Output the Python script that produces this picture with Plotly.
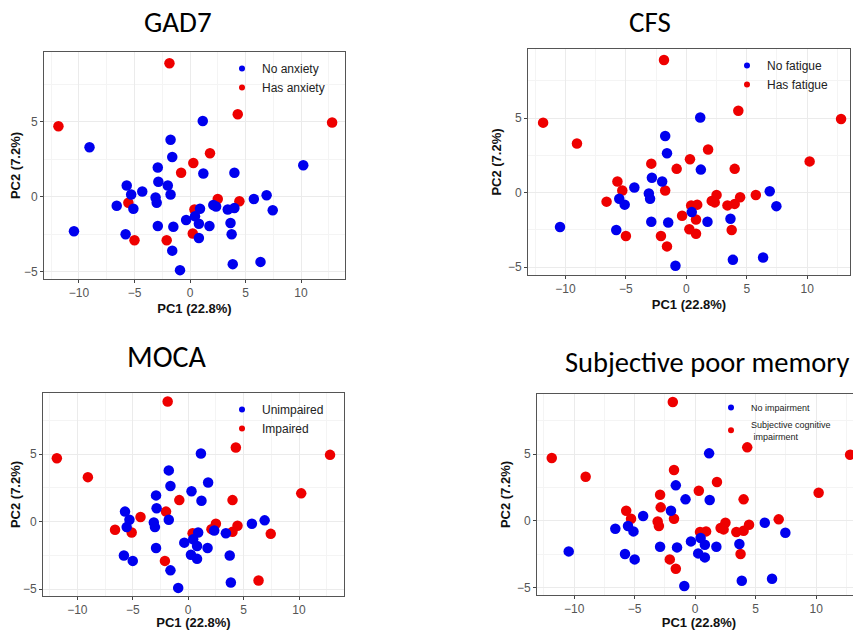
import plotly.graph_objects as go

# page is 861x630; the html body adds an 8px margin, so the figure is drawn 8px smaller
OFF = 8
W, H = 861 - OFF, 630 - OFF

# PCA scores (same samples in every panel)
pc1 = [-1.85, -11.85, 4.3, 12.8, 1.8, 0.3, -0.8, 2.5, 4.45, -5.55, 0.4, 0.25, -5.0, -2.1,
       1.15, -9.05, -1.75, -1.6, 10.2, -2.9, 1.2, 4.0, -2.85, -2.0, -5.7, -4.3, -5.3, -1.75,
       -3.1, -3.0, -6.6, -5.1, 6.9, 5.75, 7.45, 2.1, 2.35, 3.4, 4.0, 0.9, -0.35, 0.45, 0.8,
       -2.9, -1.5, 1.75, 3.65, 3.75, 0.8, -10.45, -5.8, -1.6, -0.9, 3.85, 6.35]
pc2 = [8.9, 4.7, 5.5, 4.95, 2.9, 2.25, 1.6, -0.15, -0.3, -0.4, -0.85, -2.45, -2.9, -2.9,
       5.05, 3.3, 3.8, 2.65, 2.1, 1.95, 1.55, 1.6, 1.0, 0.75, 0.75, 0.35, 0.15, 0.15,
       -0.05, -0.4, -0.6, -0.8, 0.1, -0.15, -0.9, -0.55, -0.65, -0.85, -0.75, -0.8, -1.55, -1.3, -1.8,
       -1.95, -2.0, -1.95, -1.75, -2.5, -2.75, -2.3, -2.5, -3.6, -4.9, -4.5, -4.35]

# group codes: 1 = condition present (red), 0 = absent (blue), None = missing
gad7 = [1]*14 + [0]*41
cfs = [1, 1, 1, 1, 1, 1, 1, 1, 1, 0, 1, 1, 1, 1,
       0, 1, 0, 0, 1, 1, 0, 1, 0, 0, 1, 0, 1, 1,
       0, 0, 1, 0, 0, 1, 0, 1, 1, 1, 1, 1, 1, 0, 1,
       0, 0, 0, 0, 1, 1, 0, 0, 1, 0, 0, 0]
moca = [1, 1, 1, 1, 0, 0, 1, 1, 1, 0, 1, 0, 0, 1,
        0, 1, 0, 0, 1, 0, 0, 1, 0, 1, 0, 1, 0, 0,
        0, 0, 1, 1, 0, 0, 1, 1, 0, 0, 1, 0, 0, 0, 0,
        0, None, 0, None, 0, 0, None, 0, 0, 0, 0, 1]
spm = [1, 1, 1, 1, 1, 1, 0, 1, 1, 0, 1, 0, 0, 1,
       0, 1, 1, 0, 1, 1, 0, 1, 1, 0, 1, 0, 1, 1,
       1, 1, 0, 0, 1, 0, 0, 1, 1, 1, 1, 1, 0, 0, 0,
       0, 0, 0, 0, 1, 0, 0, 0, 1, 0, 0, 0]

titles = ["GAD7", "CFS", "MOCA", "Subjective poor memory"]
neg_labels = ["No anxiety", "No fatigue", "Unimpaired", "No impairment"]
pos_labels = ["Has anxiety", "Has fatigue", "Impaired", "Subjective cognitive<br> impairment"]
groups = [gad7, cfs, moca, spm]
x_title = "PC1 (22.8%)"
y_title = "PC2 (7.2%)"

BLUE, RED = "#0000EE", "#EE0000"

# panel geometry in page pixels: (left, right, top, bottom), axis ranges
boxes = [(44, 345, 52, 279), (528, 850, 49, 275), (43, 344, 393, 596), (537, 861, 394, 595)]
xranges = [(-13.15, 13.96), (-13.1, 13.54), (-13.1, 14.06), (-13.07, 13.7)]
yranges = [(-5.49, 9.65), (-5.52, 9.64), (-5.5, 9.53), (-5.57, 9.5)]
title_pos = [(178, 22, 29), (650, 22, 29), (167, 356, 30), (707, 362, 28.5)]
legend_pos = [(222, 54, 12), (727, 51, 12), (222, 395, 12), (711, 393, 9)]


def fx(px):
    return (px - OFF) / W


def fy(py):
    return 1 - (py - OFF) / H


fig = go.Figure()
layout = dict(width=W, height=H, margin=dict(l=0, r=0, t=0, b=0),
              paper_bgcolor="white", plot_bgcolor="white", showlegend=True,
              annotations=[])

for i in range(4):
    k = "" if i == 0 else str(i + 1)
    xa, ya = "x" + k, "y" + k
    leg = "legend" + k
    g = groups[i]
    xr = [pc1[j] for j in range(len(g)) if g[j] == 1]
    yr = [pc2[j] for j in range(len(g)) if g[j] == 1]
    xb = [pc1[j] for j in range(len(g)) if g[j] == 0]
    yb = [pc2[j] for j in range(len(g)) if g[j] == 0]
    fig.add_trace(go.Scatter(x=xr, y=yr, mode="markers", xaxis=xa, yaxis=ya,
                             marker=dict(color=RED, size=10.5), showlegend=False))
    fig.add_trace(go.Scatter(x=xb, y=yb, mode="markers", xaxis=xa, yaxis=ya,
                             marker=dict(color=BLUE, size=10.5), showlegend=False))
    # legend entries
    fig.add_trace(go.Scatter(x=[None], y=[None], mode="markers", xaxis=xa, yaxis=ya,
                             marker=dict(color=BLUE, size=6), name=neg_labels[i], legend=leg))
    fig.add_trace(go.Scatter(x=[None], y=[None], mode="markers", xaxis=xa, yaxis=ya,
                             marker=dict(color=RED, size=6), name=pos_labels[i], legend=leg))

    l, r, t, b = boxes[i]
    axcommon = dict(showline=True, mirror=True, linecolor="#555555", linewidth=1,
                    showgrid=True, gridcolor="#EBEBEB", gridwidth=1, zeroline=False,
                    ticks="outside", ticklen=3, tickcolor="#444444",
                    tickfont=dict(family="Liberation Sans, Arial", size=12, color="#555555"),
                    minor=dict(showgrid=True, gridcolor="#F4F4F4", dtick=2.5, tick0=0),
                    dtick=5, tick0=0)
    layout["xaxis" + k] = dict(axcommon, domain=[fx(l), min(fx(r), 1.0)], range=list(xranges[i]),
                               anchor=ya,
                               title=dict(text="<b>" + x_title + "</b>", standoff=4,
                                          font=dict(family="Liberation Sans, Arial", size=13, color="#111111")))
    layout["yaxis" + k] = dict(axcommon, domain=[fy(b), fy(t)], range=list(yranges[i]),
                               anchor=xa,
                               title=dict(text="<b>" + y_title + "</b>", standoff=3,
                                          font=dict(family="Liberation Sans, Arial", size=13, color="#111111")))
    lx, ly, lfs = legend_pos[i]
    layout[leg] = dict(x=fx(lx), y=fy(ly), xanchor="left", yanchor="top",
                       bgcolor="rgba(0,0,0,0)", borderwidth=0, tracegroupgap=0,
                       font=dict(family="Liberation Sans, Arial", size=lfs, color="#222222"))
    tx, ty, tfs = title_pos[i]
    layout["annotations"].append(dict(text=titles[i], x=fx(tx), y=fy(ty), xref="paper", yref="paper",
                                      xanchor="center", yanchor="middle", showarrow=False,
                                      font=dict(family="Carlito, Lato, sans-serif", size=tfs, color="black")))

fig.update_layout(**layout)
fig.write_html("out.html")
